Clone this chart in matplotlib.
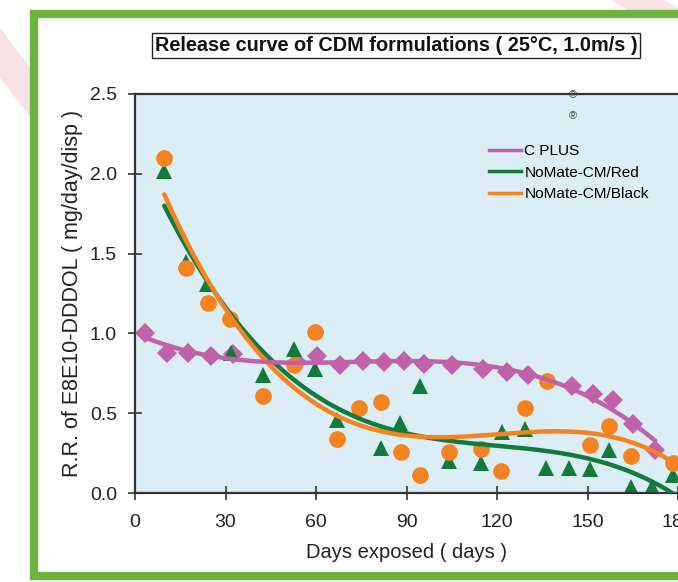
import numpy as np
import matplotlib
matplotlib.use('Agg')
import matplotlib.pyplot as plt
from matplotlib.patches import Rectangle, Polygon
from matplotlib.lines import Line2D

plt.rcParams['font.family'] = ['Liberation Sans', 'DejaVu Sans']

# ---- data ----
# C PLUS (diamonds)
cplus_days = [3.3, 10.7, 17.7, 25.1, 32.6, 53.6, 60.4, 68.0, 75.5, 82.5, 89.2, 95.8,
              105.0, 115.5, 123.2, 130.4, 144.8, 151.7, 158.4, 165.2, 172.4]
cplus_rr = [1.00, 0.88, 0.877, 0.856, 0.873, 0.82, 0.86, 0.80, 0.83, 0.82, 0.827, 0.806,
            0.80, 0.78, 0.76, 0.74, 0.67, 0.62, 0.58, 0.435, 0.27]

# NoMate-CM/Red (triangles)
red_days = [9.7, 16.8, 23.8, 31.7, 42.3, 52.8, 59.7, 66.9, 81.4, 87.8, 94.5, 104.2,
            114.6, 121.5, 129.3, 136.2, 143.9, 150.8, 157.2, 164.3, 171.4, 178.4]
red_rr = [2.02, 1.45, 1.31, 0.88, 0.74, 0.90, 0.775, 0.456, 0.28, 0.44, 0.67, 0.20,
          0.19, 0.38, 0.40, 0.155, 0.155, 0.15, 0.27, 0.04, 0.035, 0.11]

# NoMate-CM/Black (circles)
black_days = [9.7, 16.8, 24.2, 31.5, 42.3, 52.8, 59.8, 66.9, 74.4, 81.4, 88.1, 94.5,
              104.2, 114.6, 121.3, 129.3, 136.5, 150.8, 157.2, 164.3, 178.4]
black_rr = [2.10, 1.41, 1.19, 1.09, 0.61, 0.80, 1.01, 0.34, 0.53, 0.57, 0.26, 0.11,
            0.26, 0.275, 0.14, 0.535, 0.70, 0.30, 0.42, 0.23, 0.19]

series_names = ['C PLUS', 'NoMate-CM/Red', 'NoMate-CM/Black']
x_ticks = [0, 30, 60, 90, 120, 150, 180]
y_ticks = [0.0, 0.5, 1.0, 1.5, 2.0, 2.5]

c_pink = '#C061A9'
c_green = '#127A3B'
c_orange = '#F58220'

W, H = 678, 582


def fx(x):
    return x / W


def fy(y):
    return 1 - y / H


fig = plt.figure(figsize=(W / 100, H / 100), dpi=100)
fig.patch.set_facecolor('white')

# pink diagonal stripes behind the frame
fig.patches.append(Polygon([(fx(0), fy(28)), (fx(0), fy(78)), (fx(40), fy(130)), (fx(40), fy(80))],
                           closed=True, transform=fig.transFigure, fc='#F8E2E5', ec='none', zorder=-3))
fig.patches.append(Polygon([(fx(612), fy(0)), (fx(664), fy(0)), (fx(700), fy(20)), (fx(642), fy(20))],
                           closed=True, transform=fig.transFigure, fc='#F8E2E5', ec='none', zorder=-3))

# green frame
fig.patches.append(Rectangle((fx(33.5), fy(575.5)), fx(760) - fx(33.5), fy(13.5) - fy(575.5),
                             transform=fig.transFigure, fc='white', ec='#6DB43F', lw=6, zorder=-2))

ax = fig.add_axes([fx(135), fy(493), fx(678) - fx(135), fy(94) - fy(493)])
ax.set_facecolor('#DBEEF5')

ax.plot(cplus_days, cplus_rr, 'D', color=c_pink, ms=10, mew=0, zorder=2)
ax.plot(red_days, red_rr, '^', color=c_green, ms=12, mew=0, zorder=2)
ax.plot(black_days, black_rr, 'o', color=c_orange, ms=12, mew=0, zorder=2)

# polynomial trend lines like the spreadsheet ones
fit_r = np.polyfit(red_days, red_rr, 3)
xr = np.linspace(red_days[0], 180, 200)
ax.plot(xr, np.polyval(fit_r, xr), color=c_green, lw=3.2, zorder=3, solid_capstyle='round')

fit_b = np.polyfit(black_days, black_rr, 4)
xb = np.linspace(black_days[0], 180, 200)
ax.plot(xb, np.polyval(fit_b, xb), color=c_orange, lw=3.2, zorder=4, solid_capstyle='round')

fit_c = np.polyfit(cplus_days, cplus_rr, 3)
xc = np.linspace(cplus_days[0], cplus_days[-1], 200)
ax.plot(xc, np.polyval(fit_c, xc), color=c_pink, lw=3.2, zorder=5, solid_capstyle='round')

ax.set_xlim(0, 180)
ax.set_ylim(0, 2.5)
ax.set_xticks(x_ticks)
ax.set_yticks(y_ticks)
ax.set_yticklabels(['%.1f' % v for v in y_ticks])
ax.tick_params(direction='inout', length=10, width=1.2, color='#333333',
               labelsize=14, labelcolor='#222222', pad=8)
ax.tick_params(axis='x', pad=10)
for s in ['left', 'bottom', 'top']:
    ax.spines[s].set_color('#333333')
    ax.spines[s].set_linewidth(1.6)
ax.spines['right'].set_visible(False)

ax.set_xlabel('Days exposed ( days )', fontsize=14.5, color='#222222', labelpad=9)
ax.set_ylabel('R.R. of E8E10-DDDOL ( mg/day/disp )', fontsize=15.5, color='#222222', labelpad=5)

handles = [Line2D([], [], color=c, lw=2.5) for c in [c_pink, c_green, c_orange]]
ax.legend(handles, series_names, loc='upper left', bbox_to_anchor=(fx(489), fy(144)),
          bbox_transform=fig.transFigure, frameon=False, fontsize=11.1,
          handlelength=2.1, handletextpad=0.2, labelspacing=0.5, borderpad=0, borderaxespad=0)

fig.text(fx(573), fy(95), '\u00ae', fontsize=8, color='#444444', ha='center', va='center', zorder=10)
fig.text(fx(573), fy(116), '\u00ae', fontsize=8, color='#444444', ha='center', va='center', zorder=10)

fig.text(fx(396), fy(45.5), 'Release curve of CDM formulations ( 25\u00b0C, 1.0m/s )',
         ha='center', va='center', fontsize=14.3, fontweight='bold', color='#111111',
         bbox=dict(boxstyle='square,pad=0.15', fc='white', ec='#222222', lw=1))

fig.savefig('out.png', dpi=100)
